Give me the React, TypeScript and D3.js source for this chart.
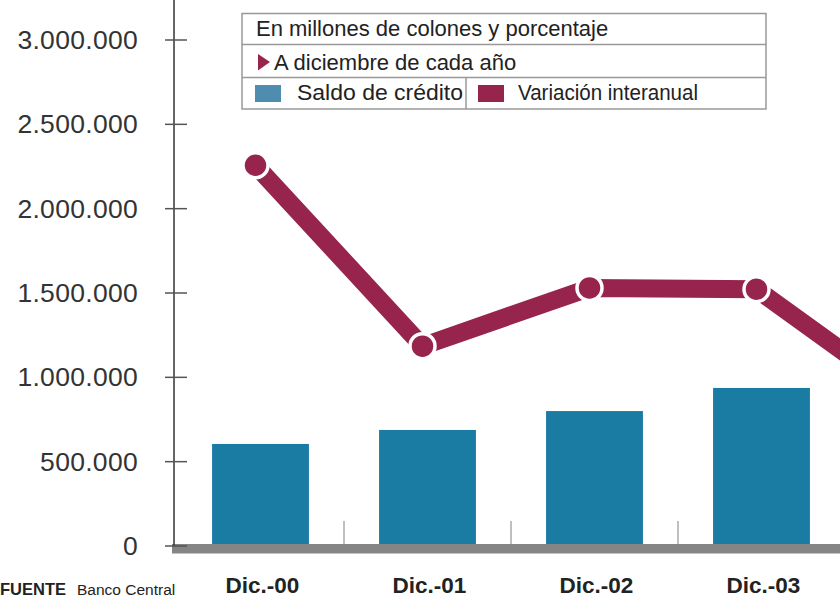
import React from 'react';
import * as d3 from 'd3';

const categories = ['Dic.-00', 'Dic.-01', 'Dic.-02', 'Dic.-03', 'Dic.-04'];
const saldoCredito = [605000, 688000, 800000, 937000, 1040000];
const variacion = [30.1, 15.8, 20.4, 20.3, 10.8];
const yTicks = [0, 500000, 1000000, 1500000, 2000000, 2500000, 3000000];

const width = 840;
const height = 598;
const font = '"Liberation Sans", Arial, sans-serif';
const barColor = '#1a7ba3';
const lineColor = '#97244d';

const locale = d3.formatLocale({ decimal: ',', thousands: '.', grouping: [3], currency: ['', ''] });
const fmt = locale.format(',d');

const App = () => {
    // scales
    const x = d3.scaleBand().domain(categories).range([177, 1012]).paddingInner(0.42).paddingOuter(0.21);
    const y = d3.scaleLinear().domain([0, 3000000]).range([546, 40]);
    const yPct = d3.scaleLinear().domain([0, 40]).range([546, 40]);

    const cx = (c) => x(c) + x.bandwidth() / 2;
    const pts = categories.map((c, i) => [cx(c) - 5, yPct(variacion[i])]);
    const line = d3.line()(pts);

    // only label the years whose label fits in the picture
    const visibleLabels = categories.filter((c) => cx(c) + 40 < width);

    return (
        <svg width={width} height={height} style={{ position: 'absolute', left: 0, top: 0, background: '#fff' }}>
            {/* bars */}
            {categories.map((c, i) => (
                <rect key={c} x={x(c)} y={y(saldoCredito[i])} width={x.bandwidth()}
                    height={y(0) - y(saldoCredito[i])} fill={barColor} />
            ))}

            {/* separators between years */}
            {categories.map((c) => {
                const sx = x(c) + x.bandwidth() + (x.step() * x.paddingInner()) / 2;
                return <line key={'s' + c} x1={sx} x2={sx} y1={521} y2={y(0)} stroke="#aaa" strokeWidth={1.5} />;
            })}

            {/* baseline band */}
            <rect x={172} y={y(0) - 2} width={width - 172} height={9.5} fill="#858585" />

            {/* y axis */}
            <line x1={174} x2={174} y1={0} y2={y(0)} stroke="#333" strokeWidth={1.5} />
            {yTicks.map((t) => (
                <g key={t}>
                    <line x1={165} x2={187} y1={y(t)} y2={y(t)} stroke="#555" strokeWidth={1.5} />
                    <text x={138} y={y(t) + 9} textAnchor="end" fontFamily={font} fontSize={26.5}
                        letterSpacing={0.3} fill="#333">{fmt(t)}</text>
                </g>
            ))}

            {/* variation line */}
            <path d={line} fill="none" stroke={lineColor} strokeWidth={18} />
            {pts.map((p, i) => (
                <circle key={'p' + i} cx={p[0]} cy={p[1]} r={12.5} fill={lineColor} stroke="#fff" strokeWidth={3.5} />
            ))}

            {/* x labels */}
            {visibleLabels.map((c) => (
                <text key={'l' + c} x={cx(c) + 2} y={593} textAnchor="middle" fontFamily={font}
                    fontWeight="bold" fontSize={22.5} fill="#222">{c}</text>
            ))}

            {/* source */}
            <text x={0} y={595} fontFamily={font} fontSize={15.5} fill="#222">
                <tspan fontWeight="bold" fontSize={16.5}>FUENTE</tspan>
                <tspan x={77}>Banco Central</tspan>
            </text>

            {/* legend box */}
            <g fontFamily={font} fontSize={22} fill="#222">
                <rect x={242} y={13.5} width={524} height={95.5} fill="#fff" stroke="#999" strokeWidth={1.5} />
                <line x1={242} x2={766} y1={44.5} y2={44.5} stroke="#999" strokeWidth={1.5} />
                <line x1={242} x2={766} y1={77.5} y2={77.5} stroke="#999" strokeWidth={1.5} />
                <line x1={466} x2={466} y1={77.5} y2={109} stroke="#999" strokeWidth={1.5} />
                <text x={256} y={36}>En millones de colones y porcentaje</text>
                <path d="M258,54 L270,62 L258,70.5 Z" fill={lineColor} />
                <text x={274} y={70}>A diciembre de cada año</text>
                <rect x={255} y={85} width={26} height={17} fill="#4f8db0" />
                <text x={297} y={100} textLength={166} lengthAdjust="spacingAndGlyphs">Saldo de crédito</text>
                <rect x={478} y={85} width={26} height={17} fill={lineColor} />
                <text x={518} y={100} textLength={180} lengthAdjust="spacingAndGlyphs">Variación interanual</text>
            </g>
        </svg>
    );
};

export default App;
